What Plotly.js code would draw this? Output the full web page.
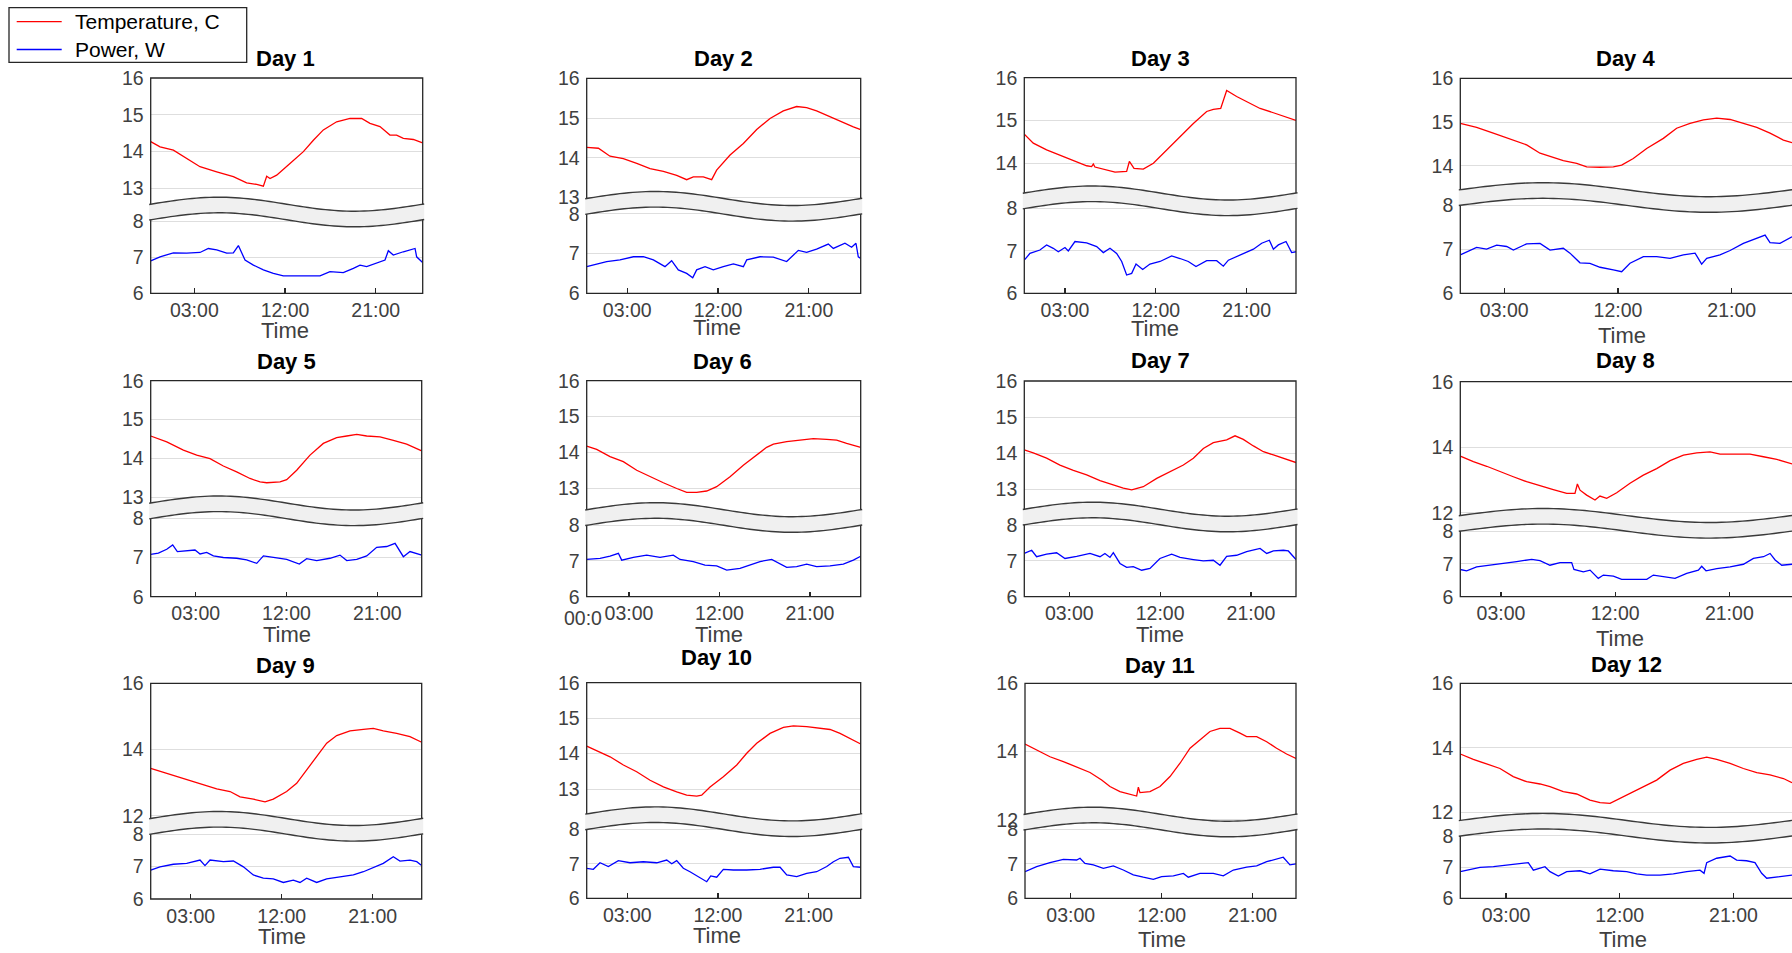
<!DOCTYPE html>
<html>
<head>
<meta charset="utf-8">
<script src="https://cdn.plot.ly/plotly-3.0.1.min.js"></script>
<style>
html,body{margin:0;padding:0;background:#fff;}
#chart{width:1792px;height:953px;}
</style>
</head>
<body>
<div id="chart"></div>
<script>
// ---------------- DATA ----------------
const dayLabels = ['Day 1','Day 2','Day 3','Day 4','Day 5','Day 6','Day 7','Day 8','Day 9','Day 10','Day 11','Day 12'];
const seriesNames = ['Temperature, C', 'Power, W'];
const seriesColors = ['#ff0000', '#0000ff'];
const timeTickVals = [3, 12, 21];
const timeTickText = ['03:00', '12:00', '21:00'];
const powerTickVals = [6, 7, 8];
const tempTickVals = [
  [13,14,15,16],[13,14,15,16],[14,15,16],[14,15,16],
  [13,14,15,16],[13,14,15,16],[13,14,15,16],[12,14,16],
  [12,14,16],[13,14,15,16],[12,14,16],[12,14,16]
];

// time of day in hours (negative = before midnight, >24 = after midnight)
const tempTimes = [
  [-1.33,-0.40,0.92,2.24,3.56,5.22,6.87,8.19,9.19,9.85,10.18,10.51,11.17,12.49,13.82,14.81,15.80,17.12,18.45,19.60,20.43,21.42,22.41,23.07,23.74,24.73,25.65],
  [-1.02,0.14,1.29,2.61,3.94,5.26,6.58,7.90,8.89,9.55,10.54,11.37,11.86,13.19,14.51,15.83,17.15,18.47,19.79,20.78,21.77,23.10,24.42,25.41,26.14],
  [-1.03,-0.14,1.18,2.50,3.82,5.15,5.64,5.81,5.97,7.13,7.96,9.11,9.38,9.84,10.76,11.76,13.08,14.40,15.72,17.04,17.70,18.43,19.02,20.01,21.0,22.33,23.65,24.97,25.89],
  [-0.48,0.81,2.13,3.45,4.77,5.83,6.62,7.67,8.73,9.52,10.58,11.63,12.29,13.21,14.27,15.59,16.64,17.70,18.76,19.81,20.87,21.92,22.98,24.03,25.09,25.77],
  [-1.46,0.13,1.78,3.10,4.42,5.74,7.06,8.38,9.38,10.04,11.36,12.02,13.01,14.33,15.65,16.97,17.97,18.96,19.95,21.27,22.59,23.91,25.40],
  [-1.2,-0.21,1.12,2.44,3.77,5.10,6.42,7.75,8.74,9.73,10.73,11.72,13.05,14.37,15.70,16.69,17.36,18.68,20.01,21.33,22.66,23.65,24.64,26.04],
  [-1.46,-0.57,0.75,2.07,3.40,4.72,6.04,7.36,8.35,9.18,10.33,11.66,12.98,14.30,15.29,16.28,17.27,18.59,19.42,20.24,21.24,22.23,23.22,24.21,25.46],
  [-0.21,0.82,1.87,2.92,3.97,5.02,6.07,7.12,8.18,8.83,9.02,9.23,9.75,10.41,10.80,11.33,12.12,13.17,14.22,15.27,16.33,17.38,18.43,19.48,20.27,21.32,22.63,23.69,24.74,25.95],
  [-0.96,0.62,2.27,3.92,5.57,6.89,7.88,9.20,10.35,11.17,12.49,13.48,14.47,15.46,16.45,17.44,18.76,20.08,21.06,22.05,23.37,24.69,25.85],
  [-1.03,0.13,1.29,2.61,3.93,5.26,6.58,7.90,8.89,9.89,10.38,11.21,12.53,13.86,14.85,15.84,17.16,18.49,19.48,20.80,22.13,23.12,24.11,25.10,26.16],
  [-1.52,-0.37,0.95,2.27,3.59,4.91,6.06,6.88,7.87,9.03,9.52,9.69,9.85,10.84,11.83,12.82,13.81,14.80,15.78,16.77,17.76,18.75,19.74,20.40,21.39,22.38,23.36,24.35,25.28],
  [-0.62,0.41,1.46,2.52,3.57,4.63,5.69,6.48,7.53,8.59,9.64,10.44,11.23,11.75,12.81,13.87,14.92,15.98,17.03,18.09,18.88,19.67,20.73,21.78,22.84,23.89,24.95,25.63]
];
const tempValues = [
  [14.27,14.13,14.04,13.82,13.59,13.45,13.32,13.15,13.11,13.06,13.33,13.27,13.36,13.68,14.0,14.31,14.59,14.81,14.90,14.90,14.77,14.68,14.45,14.45,14.36,14.33,14.24],
  [14.26,14.24,14.04,13.98,13.86,13.73,13.66,13.56,13.45,13.52,13.52,13.45,13.69,14.07,14.36,14.71,14.99,15.18,15.29,15.26,15.18,15.03,14.88,14.78,14.71],
  [14.68,14.47,14.31,14.19,14.06,13.94,13.92,13.98,13.91,13.84,13.79,13.81,14.04,13.88,13.86,14.0,14.31,14.62,14.93,15.21,15.26,15.28,15.70,15.56,15.44,15.28,15.18,15.07,15.0],
  [14.97,14.88,14.75,14.61,14.48,14.29,14.21,14.12,14.06,13.98,13.97,13.98,14.02,14.17,14.40,14.63,14.86,14.97,15.05,15.09,15.06,14.97,14.88,14.75,14.59,14.53],
  [14.58,14.43,14.22,14.09,14.0,13.81,13.66,13.49,13.40,13.38,13.40,13.46,13.70,14.09,14.39,14.54,14.58,14.62,14.58,14.56,14.47,14.37,14.20],
  [14.17,14.08,13.88,13.74,13.50,13.32,13.15,12.99,12.88,12.88,12.92,13.04,13.32,13.64,13.92,14.14,14.23,14.30,14.34,14.38,14.36,14.34,14.25,14.14],
  [14.09,14.01,13.86,13.67,13.52,13.40,13.24,13.12,13.03,12.98,13.07,13.30,13.49,13.67,13.86,14.13,14.29,14.37,14.48,14.38,14.20,14.04,13.95,13.86,13.74],
  [13.73,13.56,13.42,13.25,13.10,12.95,12.84,12.71,12.59,12.59,12.88,12.69,12.54,12.39,12.51,12.44,12.61,12.90,13.15,13.35,13.59,13.76,13.83,13.86,13.79,13.79,13.79,13.71,13.63,13.49],
  [13.43,13.28,13.13,12.95,12.81,12.73,12.57,12.50,12.42,12.50,12.73,12.98,13.38,13.78,14.19,14.42,14.56,14.61,14.64,14.56,14.49,14.39,14.22],
  [14.21,14.05,13.91,13.68,13.49,13.25,13.06,12.92,12.83,12.80,12.83,13.06,13.35,13.68,14.01,14.29,14.57,14.74,14.78,14.76,14.71,14.68,14.57,14.43,14.27],
  [14.22,14.05,13.85,13.71,13.56,13.39,13.17,12.98,12.83,12.73,12.70,12.96,12.80,12.83,12.98,13.27,13.66,14.10,14.34,14.59,14.68,14.68,14.54,14.44,14.44,14.29,14.10,13.93,13.80],
  [13.81,13.64,13.50,13.36,13.11,12.95,12.88,12.80,12.64,12.57,12.38,12.30,12.28,12.38,12.59,12.80,13.0,13.31,13.52,13.64,13.71,13.64,13.52,13.36,13.23,13.16,13.05,12.92]
];
const powerTimes = [
  [-1.33,-0.40,0.92,2.24,3.56,4.39,5.22,6.21,6.87,7.37,8.03,8.86,9.85,10.84,11.83,12.82,14.15,15.47,16.46,17.78,18.78,19.44,20.10,21.09,21.92,22.25,22.74,23.74,24.90,25.06,25.65],
  [-1.02,-0.03,0.96,2.28,3.61,4.60,5.59,6.74,7.40,8.06,8.89,9.49,9.88,10.71,11.53,12.52,13.52,14.51,14.84,16.16,17.48,18.80,19.96,20.78,21.77,22.93,23.43,24.58,25.24,25.67,25.90,26.14],
  [-1.03,-0.47,0.52,1.18,1.84,2.34,3.0,3.33,3.99,5.15,6.14,6.80,7.46,8.12,8.62,9.11,9.61,10.04,10.70,11.42,12.42,13.57,14.40,15.22,15.98,17.04,18.03,18.69,19.19,20.34,21.67,22.49,23.25,23.65,24.14,24.90,25.46,25.89],
  [-0.48,0.02,0.81,1.60,2.40,3.19,3.72,4.77,5.30,5.83,6.62,7.67,8.20,8.99,9.78,10.58,11.63,12.29,12.95,14.01,15.06,16.12,17.17,18.10,18.62,19.02,20.07,20.87,21.92,22.71,23.64,24.03,24.82,25.77],
  [-1.46,-0.70,0.13,0.72,1.18,2.11,2.93,3.43,4.09,4.75,5.74,7.06,8.05,9.05,9.71,10.70,12.02,13.27,14.0,14.99,16.31,17.30,17.97,18.96,19.95,20.94,21.93,22.76,23.58,24.24,25.40],
  [-1.2,0.13,1.12,1.95,2.28,3.44,4.76,6.09,7.41,8.08,9.40,10.56,11.72,12.72,14.04,15.04,16.03,17.19,18.02,18.68,19.67,20.67,21.66,22.99,24.31,25.31,26.04],
  [-1.46,-0.73,-0.24,0.75,1.74,2.57,3.73,5.05,6.04,6.53,7.03,7.36,8.02,8.68,9.34,10.17,10.99,11.98,13.14,13.97,15.29,16.28,17.27,17.93,18.59,19.58,20.57,21.90,22.56,23.22,24.21,24.70,25.46],
  [-0.21,0.29,1.08,2.13,3.18,4.23,5.42,6.07,6.86,7.65,8.57,8.75,9.49,10.02,10.67,11.07,11.86,12.51,13.43,14.49,15.01,15.80,16.72,17.64,18.56,18.82,19.16,20.01,21.06,22.11,22.90,23.69,24.21,24.61,25.13,25.95],
  [-0.96,-0.04,1.28,2.60,3.92,4.41,4.91,6.23,7.22,8.21,9.19,10.18,11.17,12.16,13.15,13.81,14.47,15.46,16.45,17.77,19.09,20.08,21.06,22.05,23.04,23.70,24.69,25.36,25.85],
  [-1.03,-0.37,0.29,1.12,2.11,3.27,4.59,5.92,6.91,7.41,7.90,8.56,9.22,10.22,10.88,11.28,11.87,12.53,13.53,14.85,16.17,17.49,18.16,18.82,19.81,20.80,21.79,22.79,23.45,24.11,24.94,25.43,26.16],
  [-1.52,-0.37,0.95,2.27,3.59,3.92,4.41,5.24,6.23,7.21,8.20,9.19,10.18,11.17,11.99,13.15,14.14,14.63,15.78,17.10,18.09,19.08,20.40,21.39,22.38,23.36,24.02,24.68,25.28],
  [-0.62,0.15,0.94,2.0,3.05,4.10,4.76,5.16,6.08,6.48,7.14,7.80,8.85,9.64,10.44,11.49,12.55,13.34,14.13,15.19,16.24,17.30,18.35,18.67,18.88,19.67,20.73,21.25,22.04,22.70,23.23,23.63,24.42,25.63]
];
const powerValues = [
  [6.90,7.01,7.12,7.11,7.13,7.24,7.20,7.11,7.12,7.32,6.92,6.78,6.65,6.55,6.48,6.48,6.46,6.48,6.60,6.57,6.69,6.78,6.74,6.83,6.92,7.18,7.06,7.15,7.24,7.01,6.85],
  [6.67,6.74,6.80,6.84,6.92,6.92,6.84,6.67,6.82,6.59,6.50,6.39,6.59,6.67,6.59,6.67,6.74,6.67,6.84,6.92,6.91,6.80,7.08,7.03,7.11,7.24,7.13,7.26,7.16,7.26,6.92,6.88],
  [6.78,6.94,7.02,7.14,7.06,6.98,7.08,7.0,7.22,7.19,7.10,6.96,7.06,6.94,6.75,6.43,6.47,6.69,6.56,6.69,6.75,6.88,6.82,6.75,6.63,6.77,6.77,6.64,6.78,6.90,7.04,7.18,7.25,7.04,7.14,7.22,6.96,6.98],
  [6.87,6.94,7.04,7.0,7.09,7.06,6.98,7.12,7.12,7.13,6.98,7.02,6.91,6.69,6.68,6.59,6.53,6.49,6.68,6.83,6.83,6.79,6.87,6.91,6.66,6.79,6.87,6.97,7.13,7.21,7.32,7.15,7.13,7.28],
  [7.08,7.11,7.21,7.32,7.15,7.17,7.19,7.09,7.13,7.04,7.0,6.98,6.94,6.85,7.04,7.0,6.95,6.83,6.97,6.92,6.98,7.06,6.92,6.95,7.04,7.26,7.28,7.36,7.02,7.15,7.06],
  [7.04,7.07,7.13,7.21,7.02,7.10,7.16,7.10,7.16,7.04,6.98,6.88,6.86,6.74,6.79,6.88,6.98,7.04,6.93,6.82,6.84,6.91,6.84,6.86,6.91,7.02,7.13],
  [7.21,7.30,7.12,7.19,7.23,7.07,7.13,7.21,7.12,7.21,7.10,7.23,6.93,6.82,6.84,6.74,6.79,7.07,7.19,7.10,7.04,7.0,7.02,6.88,7.13,7.16,7.26,7.35,7.21,7.28,7.30,7.28,7.04],
  [6.83,6.79,6.91,6.96,7.02,7.07,7.14,7.10,6.96,7.04,7.04,6.83,6.76,6.81,6.56,6.66,6.63,6.53,6.53,6.53,6.66,6.61,6.56,6.71,6.81,6.93,6.79,6.86,6.91,6.99,7.17,7.22,7.32,7.12,6.96,6.99],
  [6.89,6.99,7.07,7.10,7.20,7.03,7.20,7.15,7.17,6.99,6.74,6.64,6.62,6.51,6.58,6.51,6.64,6.51,6.62,6.69,6.74,6.84,6.96,7.10,7.30,7.17,7.20,7.15,7.03],
  [6.87,6.84,7.03,6.92,7.09,7.03,7.06,7.03,7.11,7.0,7.09,6.87,6.77,6.58,6.48,6.65,6.61,6.84,6.82,6.82,6.84,6.90,6.90,6.68,6.63,6.72,6.77,6.92,7.06,7.16,7.19,6.92,6.90],
  [6.77,6.92,7.03,7.13,7.11,7.16,7.01,6.97,6.87,6.94,6.82,6.68,6.61,6.55,6.63,6.65,6.72,6.61,6.72,6.72,6.65,6.82,6.90,6.94,7.06,7.13,7.19,6.97,7.0],
  [6.85,6.93,6.99,7.01,7.06,7.10,7.14,6.90,7.01,6.85,6.71,6.85,6.88,6.78,6.93,6.88,6.85,6.78,6.74,6.74,6.78,6.85,6.90,6.80,7.14,7.28,7.35,7.22,7.20,7.14,6.80,6.64,6.67,6.74]
];

// ---------------- LAYOUT GEOMETRY (pixels in the 1792x953 figure) ----------------
const FIG_W = 1792, FIG_H = 953;
const panelGeom = [
  {l:150.7, r:422.7, t:78.0, b:293.3, brk:212.0, xr:[-1.33,25.66], tlo:12.36, phi:8.25, title:[285,59],   xlab:[285,330.5]},
  {l:586.7, r:860.7, t:78.3, b:293.3, brk:206.3, xr:[-1.02,26.14], tlo:12.78, phi:8.19, title:[723.3,58.3], xlab:[716.7,328]},
  {l:1024.3,r:1296,  t:77.7, b:293.3, brk:200.8, xr:[-1.03,25.89], tlo:13.12, phi:8.18, title:[1160,58.3], xlab:[1155,329]},
  {l:1460.3,r:1792,  t:78.3, b:293.3, brk:197.5, xr:[-0.48,25.77], tlo:13.28, phi:8.17, title:[1625,58.3], xlab:[1621.7,335], cut:true},
  {l:150.7, r:421.7, t:380.7,b:596.7, brk:510.8, xr:[-1.46,25.40], tlo:12.66, phi:8.19, title:[286.7,361.7], xlab:[286.7,634]},
  {l:586.7, r:860.7, t:380.7,b:596.7, brk:517.5, xr:[-1.20,26.04], tlo:12.18, phi:8.21, title:[722,361],   xlab:[719,634]},
  {l:1024.3,r:1296,  t:381.0,b:596.7, brk:517.0, xr:[-1.46,25.46], tlo:12.23, phi:8.23, title:[1160,360.7], xlab:[1160,634]},
  {l:1460.3,r:1792,  t:381.7,b:596.7, brk:523.3, xr:[-0.21,25.94], tlo:11.68, phi:8.24, title:[1625,360.7], xlab:[1620,638.3], cut:true},
  {l:150.7, r:421.7, t:683.3,b:899.0, brk:826.3, xr:[-0.96,25.85], tlo:11.68, phi:8.24, title:[285,665],   xlab:[281.7,936]},
  {l:586.7, r:860.7, t:682.7,b:898.3, brk:821.7, xr:[-1.03,26.16], tlo:12.08, phi:8.22, title:[716.7,657.3], xlab:[716.7,935]},
  {l:1025,  r:1296,  t:683.3,b:898.3, brk:822.0, xr:[-1.52,25.28], tlo:11.94, phi:8.21, title:[1160,665],  xlab:[1161.7,939.5]},
  {l:1460.3,r:1792,  t:683.3,b:898.3, brk:828.2, xr:[-0.62,25.63], tlo:11.51, phi:8.24, title:[1626.7,664], xlab:[1623.3,939.5], cut:true}
];
// legend box geometry: box, sample line x-extent, text x, row y's
const legendGeom = {box:[9, 7.7, 246.7, 62.3], line:[16.7, 61.7], textX:72.7, rows:[21.7, 49.5]};

const FONT = 'Arial, "Liberation Sans", Helvetica, sans-serif';
const TICK_FONT = {family: FONT, size: 19.5, color: '#404040'};
const px = x => x / FIG_W;
const py = y => 1 - y / FIG_H;

const traces = [];
const layout = {
  width: FIG_W, height: FIG_H, autosize: false,
  margin: {l:0, r:0, t:0, b:0, pad:0},
  paper_bgcolor: '#ffffff', plot_bgcolor: 'rgba(0,0,0,0)',
  font: {family: FONT, color: '#262626'},
  showlegend: false,
  shapes: [], annotations: []
};

function bandShapes(g) {
  const L = g.l, R = g.r, N = 64, A = 7, half = 7.8;
  const x0 = L - 1.5, x1 = (g.cut ? R + 3 : R + 1.5);
  const up = [], lo = [];
  for (let k = 0; k <= N; k++) {
    const x = x0 + (x1 - x0) * k / N;
    const s = Math.sin(2 * Math.PI * (x - L) / (R - L));
    up.push([x, g.brk - half - A * s]);
    lo.push([x, g.brk + half - A * s]);
  }
  const pt = p => px(p[0]).toFixed(6) + ',' + py(p[1]).toFixed(6);
  const upPath = 'M' + up.map(pt).join(' L');
  const loPath = 'M' + lo.map(pt).join(' L');
  const fillPath = upPath + ' L' + lo.slice().reverse().map(pt).join(' L') + ' Z';
  return [
    {type:'path', xref:'paper', yref:'paper', path: fillPath, fillcolor:'#f0f0f0', line:{width:0}, layer:'above'},
    {type:'path', xref:'paper', yref:'paper', path: upPath, fillcolor:'rgba(0,0,0,0)', line:{color:'#3a3a3a', width:1.4}, layer:'above'},
    {type:'path', xref:'paper', yref:'paper', path: loPath, fillcolor:'rgba(0,0,0,0)', line:{color:'#3a3a3a', width:1.4}, layer:'above'}
  ];
}

panelGeom.forEach((g, i) => {
  const xa = 'x' + (i + 1), yLow = 'y' + (2 * i + 1), yUp = 'y' + (2 * i + 2);
  const xKey = 'xaxis' + (i + 1), yLowKey = 'yaxis' + (2 * i + 1), yUpKey = 'yaxis' + (2 * i + 2);

  traces.push({
    type: 'scatter', mode: 'lines', x: tempTimes[i], y: tempValues[i],
    xaxis: xa, yaxis: yUp, name: seriesNames[0],
    line: {color: seriesColors[0], width: 1.3}, hoverinfo: 'skip'
  });
  traces.push({
    type: 'scatter', mode: 'lines', x: powerTimes[i], y: powerValues[i],
    xaxis: xa, yaxis: yLow, name: seriesNames[1],
    line: {color: seriesColors[1], width: 1.3}, hoverinfo: 'skip'
  });

  layout[xKey] = {
    domain: [px(g.l), Math.min(1, px(g.r))], range: g.xr, anchor: yLow,
    tickmode: 'array', tickvals: timeTickVals, ticktext: timeTickText,
    ticks: 'inside', ticklen: 5, tickwidth: 1.2, tickcolor: '#262626',
    showgrid: false, zeroline: false, showline: false, tickfont: TICK_FONT,
    ticklabelstandoff: 3, fixedrange: true
  };
  layout[yLowKey] = {
    domain: [py(g.b), py(g.brk)], range: [6, g.phi], anchor: xa,
    tickmode: 'array', tickvals: powerTickVals, ticks: '',
    showgrid: true, gridcolor: '#dedede', gridwidth: 1,
    zeroline: false, showline: false, tickfont: TICK_FONT, fixedrange: true,
    ticklabelstandoff: 6
  };
  layout[yUpKey] = {
    domain: [py(g.brk), py(g.t)], range: [g.tlo, 16], anchor: xa,
    tickmode: 'array', tickvals: tempTickVals[i], ticks: '',
    showgrid: true, gridcolor: '#dedede', gridwidth: 1,
    zeroline: false, showline: false, tickfont: TICK_FONT, fixedrange: true,
    ticklabelstandoff: 6
  };

  // axes box
  layout.shapes.push({
    type: 'rect', xref: 'paper', yref: 'paper',
    x0: px(g.l), x1: px(g.cut ? g.r + 3 : g.r), y0: py(g.b), y1: py(g.t),
    line: {color: '#262626', width: 1.3}, fillcolor: 'rgba(0,0,0,0)', layer: 'above'
  });
  bandShapes(g).forEach(s => layout.shapes.push(s));

  layout.annotations.push({
    text: '<b>' + dayLabels[i] + '</b>', xref: 'paper', yref: 'paper',
    x: px(g.title[0]), y: py(g.title[1]), xanchor: 'center', yanchor: 'middle',
    showarrow: false, font: {family: FONT, size: 22, color: '#000000'}
  });
  layout.annotations.push({
    text: 'Time', xref: 'paper', yref: 'paper',
    x: px(g.xlab[0]), y: py(g.xlab[1]), xanchor: 'center', yanchor: 'middle',
    showarrow: false, font: {family: FONT, size: 22, color: '#404040'}
  });
});

// clipped tick label artefact under Day 6
layout.annotations.push({
  text: '00:0', xref: 'paper', yref: 'paper', x: px(562), y: py(618),
  xanchor: 'left', yanchor: 'middle', showarrow: false, font: TICK_FONT
});

// legend (box, sample lines, labels)
const lb = legendGeom.box;
layout.shapes.push({
  type: 'rect', xref: 'paper', yref: 'paper',
  x0: px(lb[0]), y0: py(lb[3]), x1: px(lb[2]), y1: py(lb[1]),
  line: {color: '#262626', width: 1.3}, fillcolor: '#ffffff', layer: 'above'
});
seriesNames.forEach((name, k) => {
  const yy = legendGeom.rows[k];
  layout.shapes.push({
    type: 'line', xref: 'paper', yref: 'paper',
    x0: px(legendGeom.line[0]), x1: px(legendGeom.line[1]), y0: py(yy), y1: py(yy),
    line: {color: seriesColors[k], width: 1.3}, layer: 'above'
  });
  layout.annotations.push({
    text: name, xref: 'paper', yref: 'paper', x: px(legendGeom.textX), y: py(yy),
    xanchor: 'left', yanchor: 'middle', showarrow: false,
    font: {family: FONT, size: 21, color: '#000000'}
  });
});

Plotly.newPlot('chart', traces, layout, {displayModeBar: false, staticPlot: true});
</script>
</body>
</html>
